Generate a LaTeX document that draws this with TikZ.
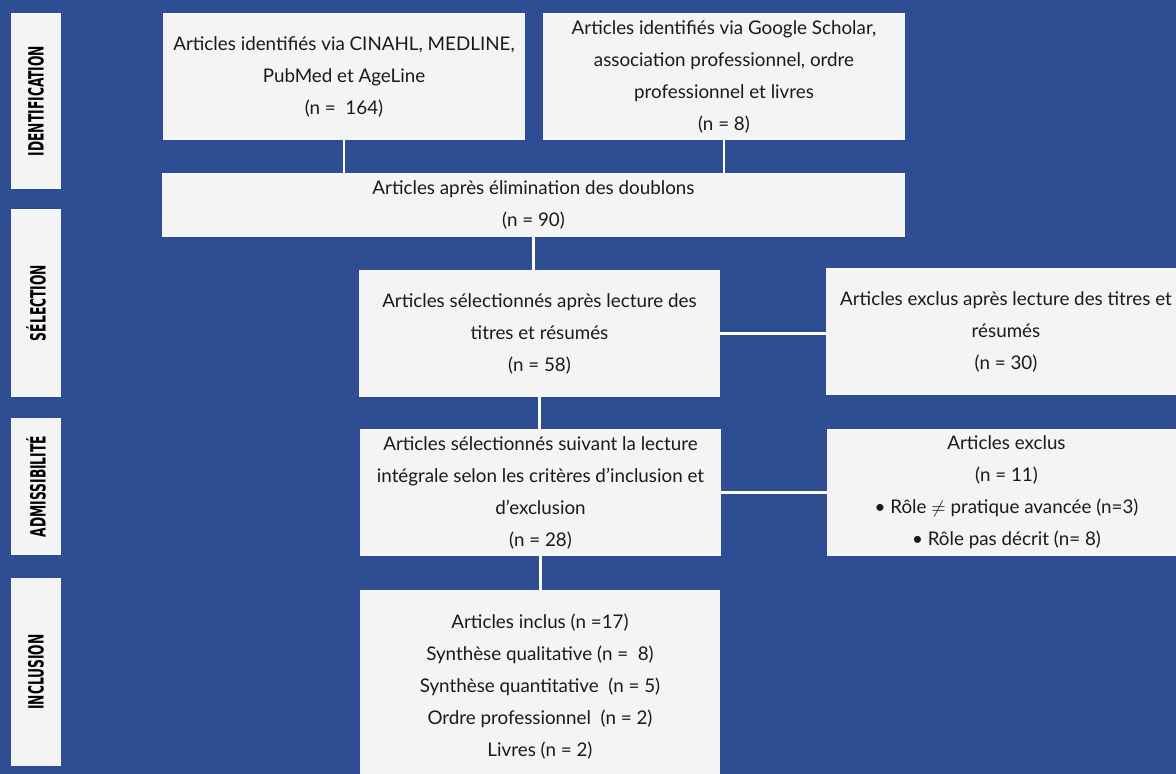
\documentclass[tikz,border=0pt]{standalone}
\usepackage{fontspec}
\usepackage{graphicx}
\setmainfont{Lato}
\newfontfamily\condfont{DejaVu Sans Condensed}
\definecolor{bgblue}{HTML}{2E4D93}
\definecolor{boxgray}{HTML}{F4F4F4}
\definecolor{ink}{HTML}{1A1A1A}

\begin{document}
\begin{tikzpicture}[x=0.5pt,y=-0.5pt,
    box/.style={fill=boxgray, text=ink, align=center, inner sep=0pt,
      font=\fontsize{9.4}{16}\selectfont},
    phase/.style={fill=boxgray, text=black, rotate=90, inner sep=0pt,
      minimum height=25pt, font=\condfont\bfseries\fontsize{10.5}{10.5}\selectfont},
    link/.style={draw=white, line width=1.3pt}]
  \useasboundingbox (0,0) rectangle (1176,774);
  \clip (0,0) rectangle (1176,774);
  \fill[bgblue] (0,0) rectangle (1176,774);

  % phases on the left
  \foreach \y/\h/\nm/\txt in {101/88/pid/IDENTIFICATION, 303/94/psel/SÉLECTION,
      486.5/68.5/padm/ADMISSIBILITÉ, 672/94/pinc/INCLUSION}{
    \node[phase, minimum width=\h pt] (\nm) at (36,\y) {\scalebox{0.65}[1]{\txt}};
  }

  % boxes
  \node[box, minimum width=181pt, minimum height=63.5pt] (bases) at (344,76.5)
    {Articles identifiés via CINAHL, MEDLINE,\\PubMed et AgeLine\\(n = \ 164)};
  \node[box, minimum width=181pt, minimum height=63.5pt] (autres) at (724,76.5)
    {Articles identifiés via Google Scholar,\\association professionnel, ordre\\professionnel et livres\\(n = 8)};
  \node[box, minimum width=371.5pt, minimum height=32pt] (doublons) at (533.5,205)
    {Articles après élimination des doublons\\(n = 90)};
  \node[box, minimum width=180.5pt, minimum height=63.5pt] (titres) at (539.5,333.5)
    {Articles sélectionnés après lecture des\\titres et résumés\\(n = 58)};
  \node[box, minimum width=180pt, minimum height=63.5pt] (exclus1) at (1006,331.5)
    {Articles exclus après lecture des titres et\\résumés\\(n = 30)};
  \node[box, minimum width=180.5pt, minimum height=63.5pt] (integrale) at (540.5,492.5)
    {Articles sélectionnés suivant la lecture\\intégrale selon les critères d’inclusion et\\d’exclusion\\(n = 28)};
  \node[box, minimum width=179.5pt, minimum height=63.5pt] (exclus2) at (1006.5,492.5)
    {Articles exclus\\(n = 11)\\\textbullet{} Rôle $\neq$ pratique avancée (n=3)\\\textbullet{} Rôle pas décrit (n= 8)};
  \node[box, minimum width=180pt, minimum height=97pt] (inclus) at (540,687)
    {Articles inclus (n =17)\\Synthèse qualitative (n = \ 8)\\Synthèse quantitative \ (n = 5)\\Ordre professionnel \ (n = 2)\\Livres (n = 2)};

  % connectors
  \draw[link] (bases.south) -- (bases.south |- doublons.north);
  \draw[link] (autres.south) -- (autres.south |- doublons.north);
  \draw[link] (doublons.south) -- (doublons.south |- titres.north);
  \draw[link] (titres.south) -- (titres.south |- integrale.north);
  \draw[link] (integrale.south) -- (integrale.south |- inclus.north);
  \draw[link] (titres.east) -- (titres.east -| exclus1.west);
  \draw[link] (integrale.east) -- (integrale.east -| exclus2.west);
\end{tikzpicture}
\end{document}
